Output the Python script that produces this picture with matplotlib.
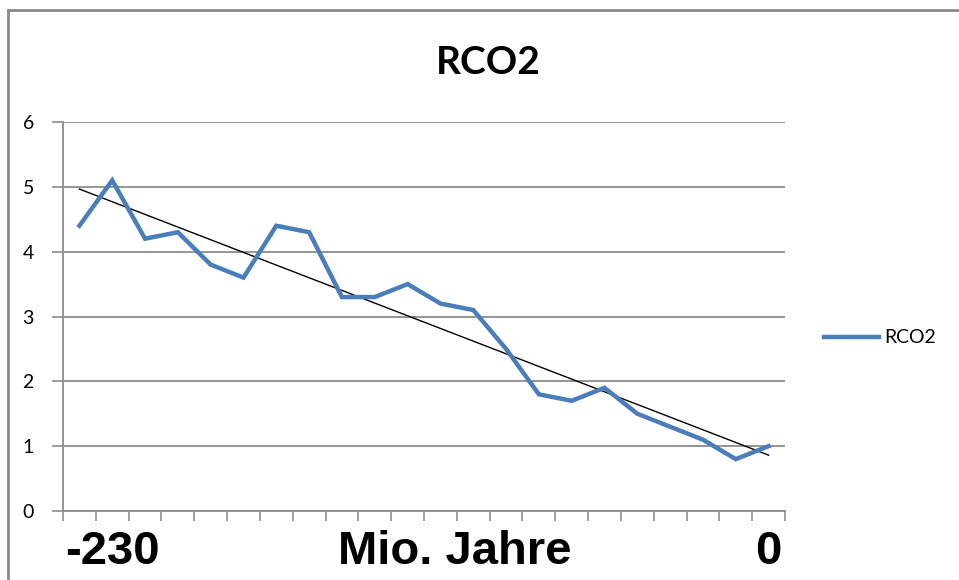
import numpy as np
import matplotlib
matplotlib.use("Agg")
import matplotlib.pyplot as plt
from matplotlib.patches import Rectangle

# RCO2 values, one per category
rco2 = [4.4, 5.1, 4.2, 4.3, 3.8, 3.6, 4.4, 4.3, 3.3, 3.3, 3.5,
        3.2, 3.1, 2.5, 1.8, 1.7, 1.9, 1.5, 1.3, 1.1, 0.8, 1.0]
label_pos = [1, 11.45, 21]
label_txt = ["-230", "Mio. Jahre", "0"]
yticks = [0, 1, 2, 3, 4, 5, 6]

x = np.arange(len(rco2))
grid_col = "#8c8c8c"
blue = "#4a7ebb"

fig = plt.figure(figsize=(9.59, 5.80), dpi=100)
fig.patches.append(Rectangle((8 / 959, -0.1), 1.2, 1 - 10 / 580 + 0.1,
                             transform=fig.transFigure, fill=False,
                             edgecolor="#8a8a8a", linewidth=2))

ax = fig.add_axes([63 / 959, 1 - 511 / 580, (785 - 63) / 959, (511 - 122) / 580])

# linear trend line (Excel style)
k, d = np.polyfit(x, rco2, 1)
ax.plot(x, k * x + d, color="black", linewidth=1, zorder=3)
ax.plot(x, rco2, color=blue, linewidth=3.2, label="RCO2", zorder=4,
        solid_joinstyle="miter")

ax.set_ylim(0, 6)
ax.set_xlim(-0.5, len(rco2) - 0.5)
ax.set_yticks(yticks)
ax.yaxis.grid(True, color=grid_col, linewidth=1.3)
ax.set_axisbelow(True)

for s in ["top", "right"]:
    ax.spines[s].set_visible(False)
for s in ["left", "bottom"]:
    ax.spines[s].set_color(grid_col)
    ax.spines[s].set_linewidth(1.3)

ax.set_xticks(np.arange(len(rco2) + 1) - 0.5)
ax.set_xticklabels([])
ax.tick_params(axis="x", which="major", length=7, color=grid_col, width=1.2)
ax.xaxis.remove_overlapping_locs = False
ax.set_xticks(label_pos, minor=True)
ax.set_xticklabels(label_txt, minor=True, fontsize=34, fontweight="bold",
                   family="Liberation Sans")
ax.tick_params(axis="x", which="minor", length=0, pad=14)
ax.tick_params(axis="y", length=8, color=grid_col, width=1.2, labelsize=14, pad=13)
for t in ax.get_yticklabels():
    t.set_family("Lato")

fig.text(488 / 959, 1 - 63 / 580, "RCO2", ha="center", va="center",
         fontsize=28, fontweight="bold", family="Lato")

ax.legend(loc="center left", bbox_to_anchor=(1.03, 0.445), frameon=False,
          handlelength=2.8, handletextpad=0.3,
          prop={"family": "Lato", "size": 14})

fig.savefig("out.png", dpi=100)
